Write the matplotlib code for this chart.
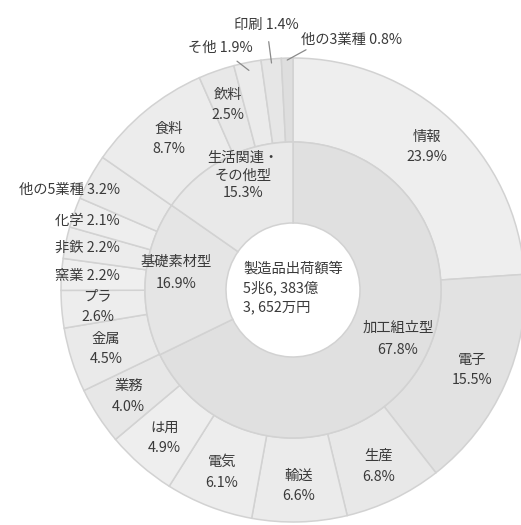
import numpy as np
import matplotlib
matplotlib.use("Agg")
import matplotlib.pyplot as plt

plt.rcParams['font.family'] = ['Noto Sans CJK JP', 'DejaVu Sans']

# inner ring
groups = ['加工組立型', '基礎素材型', '生活関連・\nその他型']
group_vals = [67.8, 16.9, 15.3]
group_colors = ['#e0e0e0', '#e5e5e5', '#e9e9e9']

# outer ring (clockwise from 12 o'clock)
inds = ['情報', '電子', '生産', '輸送', '電気', 'は用', '業務',
        '金属', 'プラ', '窯業', '非鉄', '化学', '他の5業種',
        '食料', '飲料', 'そ他', '印刷', '他の3業種']
ind_vals = [23.9, 15.5, 6.8, 6.6, 6.1, 4.9, 4.0,
            4.5, 2.6, 2.2, 2.2, 2.1, 3.2,
            8.7, 2.5, 1.9, 1.4, 0.8]
ind_colors = ['#eeeeee', '#e2e2e2', '#e8e8e8', '#ebebeb', '#ededed', '#eeeeee', '#e7e7e7',
              '#eaeaea', '#ededed', '#efefef', '#ececec', '#eeeeee', '#ebebeb',
              '#ececec', '#e8e8e8', '#ebebeb', '#e6e6e6', '#dedede']

center_text = '製造品出荷額等\n5兆6, 383億\n3, 652万円'

R_OUT, W_OUT = 232, 84
R_IN, W_IN = 148, 81
txt = '#3a3a3a'
fs = 10.3

fig = plt.figure(figsize=(5.21, 5.25), dpi=100)
ax = fig.add_axes([0, 0, 1, 1])

ax.pie(ind_vals, radius=R_OUT, startangle=90, counterclock=False, colors=ind_colors,
       wedgeprops=dict(width=W_OUT, edgecolor='#d2d2d2', linewidth=1.1))
ax.pie(group_vals, radius=R_IN, startangle=90, counterclock=False, colors=group_colors,
       wedgeprops=dict(width=W_IN, edgecolor='#d2d2d2', linewidth=1.1))

ax.set_xlim(-293, 228)
ax.set_ylim(-235, 290)
ax.set_aspect('equal', adjustable='box')
ax.axis('off')


def mid_angles(vals):
    tot = sum(vals)
    c = np.cumsum([0] + list(vals))
    return [(c[i] + vals[i] / 2) / tot * 360 for i in range(len(vals))]


def pos(ang, r):
    a = np.radians(ang)
    return r * np.sin(a), r * np.cos(a)


# inner ring labels
g_ang = mid_angles(group_vals)
g_r = [116, 118, 125]
g_adj = [-7, 4, 4]
for name, v, a, r, d in zip(groups, group_vals, g_ang, g_r, g_adj):
    x, y = pos(a + d, r)
    ax.text(x, y, f'{name}\n{v}%', ha='center', va='center', fontsize=fs, color=txt,
            linespacing=1.75 if '\n' not in name else 1.3)

# outer ring labels
o_ang = mid_angles(ind_vals)
left_out = {'窯業', '非鉄', '化学', '他の5業種'}
for name, v, a in zip(inds, ind_vals, o_ang):
    if name in left_out:
        x, y = pos(a, 206)
        ax.text(-173, y, f'{name} {v}%', ha='right', va='center', fontsize=fs, color=txt)
    elif name == 'そ他':
        ex, ey = pos(a, 224)
        ax.annotate(f'{name} {v}%', xy=(ex, ey), xytext=(-73, 242), ha='center', va='center',
                    fontsize=fs, color=txt,
                    arrowprops=dict(arrowstyle='-', color='#8a8a8a', lw=0.9, shrinkA=4, shrinkB=0))
    elif name == '印刷':
        ex, ey = pos(a, 228)
        ax.annotate(f'{name} {v}%', xy=(ex, ey), xytext=(ex - 5, 265), ha='center', va='center',
                    fontsize=fs, color=txt,
                    arrowprops=dict(arrowstyle='-', color='#8a8a8a', lw=0.9, shrinkA=5, shrinkB=0))
    elif name == '他の3業種':
        ex, ey = pos(a, 230)
        ax.annotate(f'{name} {v}%', xy=(ex, ey), xytext=(8, 250), ha='left', va='center',
                    fontsize=fs, color=txt,
                    arrowprops=dict(arrowstyle='-', color='#8a8a8a', lw=0.9, shrinkA=0, shrinkB=0,
                                    relpos=(0.1, 0.0)))
    else:
        x, y = pos(a, 196)
        ax.text(x, y, f'{name}\n{v}%', ha='center', va='center', fontsize=fs, color=txt,
                linespacing=1.6)

ax.text(-50, 2, center_text, ha='left', va='center', fontsize=fs, color=txt, linespacing=1.4)

fig.savefig('out.png', dpi=100, facecolor='white')
